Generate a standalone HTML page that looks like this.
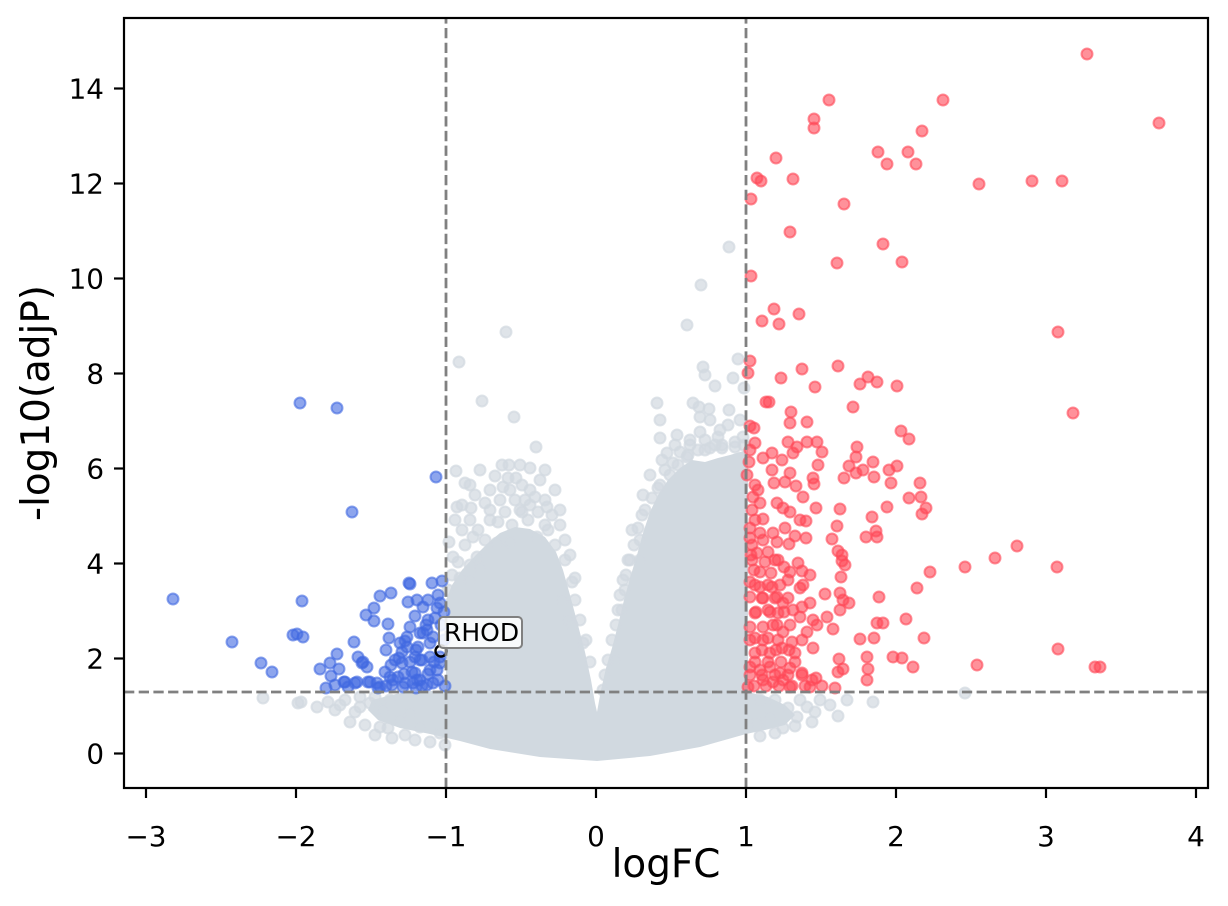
<!DOCTYPE html>
<html><head><meta charset="utf-8"><style>
html,body{margin:0;padding:0;background:#fff}
svg{display:block}
.g{fill:#d1d9e0;fill-opacity:.7;stroke:#d1d9e0;stroke-opacity:.7;stroke-width:2}
.b{fill:#4169e1;fill-opacity:.6;stroke:#4169e1;stroke-opacity:.6;stroke-width:2}
.r{fill:#ff4757;fill-opacity:.6;stroke:#ff4757;stroke-opacity:.6;stroke-width:2}
text{font-family:"DejaVu Sans","Liberation Sans",sans-serif;fill:#000}
.tk{font-size:27.8px}
.lb{font-size:38.9px}
</style></head><body>
<svg width="1228" height="906" viewBox="0 0 1228 906" xmlns="http://www.w3.org/2000/svg">
<rect width="1228" height="906" fill="#fff"/>
<polygon fill="#d1d9e0" points="372,700 400,693 446,690 446,600 452,585 462,570 475,556 488,543 500,533 515,527 530,529 545,537 556,552 563,570 570,595 578,625 585,652 591,680 595,703 597,712 601,690 606,668 612,648 618,625 624,600 630,578 637,555 643,533 650,512 658,495 668,480 680,468 692,460 705,462 718,458 730,455 740,452 748,450 748,692 768,697 785,705 795,715 785,725 765,730 746,734 700,747 650,756 597,761 540,757 490,749 460,741 430,734 400,728 378,720 368,710"/>
<g class="g">
<circle cx="729" cy="247" r="5.5"/><circle cx="701" cy="285" r="5.5"/><circle cx="687" cy="325" r="5.5"/><circle cx="506" cy="332" r="5.5"/><circle cx="459" cy="362" r="5.5"/><circle cx="738" cy="359" r="5.5"/><circle cx="703" cy="367" r="5.5"/><circle cx="705" cy="375" r="5.5"/><circle cx="733" cy="378" r="5.5"/><circle cx="715" cy="386" r="5.5"/><circle cx="744" cy="388" r="5.5"/><circle cx="482" cy="401" r="5.5"/><circle cx="514" cy="417" r="5.5"/><circle cx="657" cy="403" r="5.5"/><circle cx="693" cy="403" r="5.5"/><circle cx="699" cy="407" r="5.5"/><circle cx="709" cy="409" r="5.5"/><circle cx="729" cy="410" r="5.5"/><circle cx="700" cy="417" r="5.5"/><circle cx="710" cy="420" r="5.5"/><circle cx="536" cy="447" r="5.5"/><circle cx="660" cy="438" r="5.5"/><circle cx="677" cy="435" r="5.5"/><circle cx="700" cy="432" r="5.5"/><circle cx="718" cy="437" r="5.5"/><circle cx="722" cy="448" r="5.5"/><circle cx="735" cy="447" r="5.5"/><circle cx="743" cy="437" r="5.5"/><circle cx="456" cy="471" r="5.5"/><circle cx="465" cy="483" r="5.5"/><circle cx="470" cy="485" r="5.5"/><circle cx="502" cy="465" r="5.5"/><circle cx="509" cy="465" r="5.5"/><circle cx="495" cy="476" r="5.5"/><circle cx="516" cy="478" r="5.5"/><circle cx="503" cy="487" r="5.5"/><circle cx="522" cy="485" r="5.5"/><circle cx="457" cy="507" r="5.5"/><circle cx="471" cy="508" r="5.5"/><circle cx="535" cy="497" r="5.5"/><circle cx="547" cy="507" r="5.5"/><circle cx="667" cy="453" r="5.5"/><circle cx="673" cy="463" r="5.5"/><circle cx="687" cy="457" r="5.5"/><circle cx="643" cy="495" r="5.5"/><circle cx="658" cy="488" r="5.5"/><circle cx="473" cy="537" r="5.5"/><circle cx="497" cy="543" r="5.5"/><circle cx="510" cy="542" r="5.5"/><circle cx="449" cy="542" r="5.5"/><circle cx="453" cy="557" r="5.5"/><circle cx="477" cy="557" r="5.5"/><circle cx="480" cy="568" r="5.5"/><circle cx="460" cy="578" r="5.5"/><circle cx="470" cy="580" r="5.5"/><circle cx="575" cy="578" r="5.5"/><circle cx="572" cy="582" r="5.5"/><circle cx="583" cy="643" r="5.5"/><circle cx="572" cy="625" r="5.5"/><circle cx="623" cy="580" r="5.5"/><circle cx="620" cy="595" r="5.5"/><circle cx="622" cy="610" r="5.5"/><circle cx="640" cy="540" r="5.5"/><circle cx="640" cy="560" r="5.5"/><circle cx="642" cy="515" r="5.5"/><circle cx="660" cy="420" r="5.5"/><circle cx="740" cy="420" r="5.5"/><circle cx="728" cy="425" r="5.5"/><circle cx="690" cy="445" r="5.5"/><circle cx="705" cy="450" r="5.5"/><circle cx="545" cy="525" r="5.5"/><circle cx="528" cy="520" r="5.5"/><circle cx="490" cy="520" r="5.5"/><circle cx="520" cy="510" r="5.5"/><circle cx="485" cy="503" r="5.5"/><circle cx="500" cy="500" r="5.5"/><circle cx="555" cy="490" r="5.5"/><circle cx="540" cy="480" r="5.5"/><circle cx="530" cy="468" r="5.5"/><circle cx="525" cy="500" r="5.5"/><circle cx="512" cy="525" r="5.5"/><circle cx="537" cy="537" r="5.5"/><circle cx="555" cy="545" r="5.5"/><circle cx="565" cy="560" r="5.5"/><circle cx="650" cy="475" r="5.5"/><circle cx="665" cy="470" r="5.5"/><circle cx="680" cy="452" r="5.5"/><circle cx="715" cy="445" r="5.5"/><circle cx="632" cy="530" r="5.5"/><circle cx="628" cy="560" r="5.5"/>
<circle cx="455" cy="520" r="5.5"/><circle cx="462" cy="530" r="5.5"/><circle cx="470" cy="520" r="5.5"/><circle cx="478" cy="530" r="5.5"/><circle cx="485" cy="540" r="5.5"/><circle cx="490" cy="510" r="5.5"/><circle cx="498" cy="522" r="5.5"/><circle cx="505" cy="512" r="5.5"/><circle cx="515" cy="500" r="5.5"/><circle cx="522" cy="512" r="5.5"/><circle cx="530" cy="505" r="5.5"/><circle cx="538" cy="512" r="5.5"/><circle cx="545" cy="500" r="5.5"/><circle cx="552" cy="515" r="5.5"/><circle cx="548" cy="530" r="5.5"/><circle cx="560" cy="525" r="5.5"/><circle cx="565" cy="540" r="5.5"/><circle cx="570" cy="555" r="5.5"/><circle cx="490" cy="490" r="5.5"/><circle cx="510" cy="490" r="5.5"/><circle cx="530" cy="490" r="5.5"/><circle cx="545" cy="470" r="5.5"/><circle cx="520" cy="465" r="5.5"/><circle cx="508" cy="478" r="5.5"/><circle cx="480" cy="470" r="5.5"/><circle cx="475" cy="495" r="5.5"/><circle cx="462" cy="505" r="5.5"/><circle cx="465" cy="545" r="5.5"/><circle cx="458" cy="562" r="5.5"/><circle cx="470" cy="565" r="5.5"/><circle cx="452" cy="575" r="5.5"/><circle cx="448" cy="590" r="5.5"/><circle cx="562" cy="600" r="5.5"/><circle cx="568" cy="620" r="5.5"/><circle cx="560" cy="510" r="5.5"/><circle cx="575" cy="600" r="5.5"/><circle cx="580" cy="620" r="5.5"/><circle cx="586" cy="640" r="5.5"/><circle cx="590" cy="662" r="5.5"/>
<circle cx="603" cy="690" r="5.5"/><circle cx="605" cy="675" r="5.5"/><circle cx="608" cy="660" r="5.5"/><circle cx="612" cy="640" r="5.5"/><circle cx="616" cy="625" r="5.5"/><circle cx="618" cy="610" r="5.5"/><circle cx="626" cy="575" r="5.5"/><circle cx="630" cy="560" r="5.5"/><circle cx="634" cy="545" r="5.5"/><circle cx="638" cy="528" r="5.5"/><circle cx="645" cy="510" r="5.5"/><circle cx="652" cy="498" r="5.5"/><circle cx="660" cy="485" r="5.5"/><circle cx="670" cy="475" r="5.5"/><circle cx="678" cy="465" r="5.5"/><circle cx="688" cy="455" r="5.5"/><circle cx="698" cy="450" r="5.5"/><circle cx="710" cy="448" r="5.5"/><circle cx="722" cy="445" r="5.5"/><circle cx="735" cy="442" r="5.5"/><circle cx="744" cy="445" r="5.5"/><circle cx="662" cy="460" r="5.5"/><circle cx="675" cy="445" r="5.5"/><circle cx="690" cy="440" r="5.5"/><circle cx="705" cy="440" r="5.5"/><circle cx="720" cy="430" r="5.5"/><circle cx="625" cy="590" r="5.5"/><circle cx="615" cy="660" r="5.5"/>
<circle cx="263" cy="698" r="5.5"/><circle cx="298" cy="703" r="5.5"/><circle cx="301" cy="702" r="5.5"/><circle cx="317" cy="707" r="5.5"/><circle cx="328" cy="702" r="5.5"/><circle cx="340" cy="705" r="5.5"/><circle cx="350" cy="722" r="5.5"/><circle cx="360" cy="707" r="5.5"/><circle cx="380" cy="727" r="5.5"/><circle cx="388" cy="728" r="5.5"/><circle cx="400" cy="720" r="5.5"/><circle cx="420" cy="727" r="5.5"/><circle cx="440" cy="733" r="5.5"/><circle cx="370" cy="703" r="5.5"/><circle cx="383" cy="710" r="5.5"/><circle cx="410" cy="713" r="5.5"/><circle cx="355" cy="712" r="5.5"/><circle cx="365" cy="725" r="5.5"/><circle cx="345" cy="700" r="5.5"/><circle cx="335" cy="710" r="5.5"/><circle cx="392" cy="738" r="5.5"/><circle cx="405" cy="735" r="5.5"/><circle cx="415" cy="740" r="5.5"/><circle cx="430" cy="742" r="5.5"/><circle cx="445" cy="745" r="5.5"/><circle cx="360" cy="697" r="5.5"/><circle cx="375" cy="697" r="5.5"/><circle cx="390" cy="700" r="5.5"/><circle cx="375" cy="735" r="5.5"/>
<circle cx="847" cy="700" r="5.5"/><circle cx="873" cy="702" r="5.5"/><circle cx="838" cy="716" r="5.5"/><circle cx="812" cy="722" r="5.5"/><circle cx="797" cy="717" r="5.5"/><circle cx="783" cy="728" r="5.5"/><circle cx="770" cy="717" r="5.5"/><circle cx="757" cy="723" r="5.5"/><circle cx="807" cy="707" r="5.5"/><circle cx="788" cy="708" r="5.5"/><circle cx="965" cy="693" r="5.5"/><circle cx="800" cy="700" r="5.5"/><circle cx="820" cy="700" r="5.5"/><circle cx="760" cy="736" r="5.5"/><circle cx="775" cy="733" r="5.5"/><circle cx="830" cy="705" r="5.5"/><circle cx="815" cy="712" r="5.5"/><circle cx="760" cy="700" r="5.5"/><circle cx="775" cy="700" r="5.5"/><circle cx="795" cy="726" r="5.5"/>
</g>
<g class="b">
<circle cx="300" cy="403" r="5.5"/><circle cx="337" cy="408" r="5.5"/><circle cx="436" cy="477" r="5.5"/><circle cx="352" cy="512" r="5.5"/><circle cx="173" cy="599" r="5.5"/><circle cx="302" cy="601" r="5.5"/><circle cx="232" cy="642" r="5.5"/><circle cx="261" cy="663" r="5.5"/><circle cx="272" cy="672" r="5.5"/><circle cx="293" cy="635" r="5.5"/><circle cx="297" cy="634" r="5.5"/><circle cx="303" cy="637" r="5.5"/><circle cx="320" cy="669" r="5.5"/><circle cx="330" cy="663" r="5.5"/><circle cx="337" cy="654" r="5.5"/><circle cx="331" cy="676" r="5.5"/><circle cx="339" cy="669" r="5.5"/><circle cx="344" cy="682" r="5.5"/><circle cx="335" cy="685" r="5.5"/><circle cx="354" cy="642" r="5.5"/><circle cx="358" cy="657" r="5.5"/><circle cx="363" cy="662" r="5.5"/><circle cx="367" cy="667" r="5.5"/><circle cx="357" cy="682" r="5.5"/><circle cx="368" cy="682" r="5.5"/><circle cx="377" cy="683" r="5.5"/><circle cx="366" cy="615" r="5.5"/><circle cx="374" cy="608" r="5.5"/><circle cx="374" cy="621" r="5.5"/><circle cx="380" cy="596" r="5.5"/><circle cx="391" cy="593" r="5.5"/><circle cx="388" cy="624" r="5.5"/><circle cx="389" cy="638" r="5.5"/><circle cx="386" cy="650" r="5.5"/><circle cx="385" cy="672" r="5.5"/><circle cx="391" cy="665" r="5.5"/><circle cx="390" cy="677" r="5.5"/><circle cx="392" cy="685" r="5.5"/><circle cx="400" cy="643" r="5.5"/><circle cx="399" cy="658" r="5.5"/><circle cx="402" cy="663" r="5.5"/><circle cx="405" cy="683" r="5.5"/><circle cx="407" cy="637" r="5.5"/><circle cx="409" cy="583" r="5.5"/><circle cx="410" cy="584" r="5.5"/><circle cx="408" cy="602" r="5.5"/><circle cx="417" cy="600" r="5.5"/><circle cx="423" cy="607" r="5.5"/><circle cx="415" cy="616" r="5.5"/><circle cx="410" cy="627" r="5.5"/><circle cx="407" cy="647" r="5.5"/><circle cx="415" cy="657" r="5.5"/><circle cx="420" cy="660" r="5.5"/><circle cx="423" cy="633" r="5.5"/><circle cx="427" cy="630" r="5.5"/><circle cx="432" cy="583" r="5.5"/><circle cx="442" cy="581" r="5.5"/><circle cx="438" cy="595" r="5.5"/><circle cx="440" cy="603" r="5.5"/><circle cx="435" cy="618" r="5.5"/><circle cx="433" cy="637" r="5.5"/><circle cx="437" cy="670" r="5.5"/><circle cx="438" cy="680" r="5.5"/><circle cx="420" cy="680" r="5.5"/><circle cx="413" cy="683" r="5.5"/><circle cx="403" cy="687" r="5.5"/><circle cx="427" cy="685" r="5.5"/><circle cx="412" cy="672" r="5.5"/><circle cx="430" cy="657" r="5.5"/><circle cx="440" cy="657" r="5.5"/><circle cx="437" cy="608" r="5.5"/><circle cx="405" cy="641" r="5.5"/><circle cx="402" cy="652" r="5.5"/><circle cx="362" cy="663" r="5.5"/><circle cx="345" cy="682" r="5.5"/><circle cx="355" cy="683" r="5.5"/><circle cx="370" cy="682" r="5.5"/><circle cx="378" cy="688" r="5.5"/><circle cx="393" cy="680" r="5.5"/><circle cx="417" cy="680" r="5.5"/><circle cx="433" cy="683" r="5.5"/><circle cx="420" cy="633" r="5.5"/><circle cx="430" cy="643" r="5.5"/><circle cx="418" cy="647" r="5.5"/><circle cx="422" cy="660" r="5.5"/><circle cx="440" cy="663" r="5.5"/><circle cx="415" cy="673" r="5.5"/><circle cx="398" cy="677" r="5.5"/><circle cx="430" cy="670" r="5.5"/><circle cx="441" cy="625" r="5.5"/><circle cx="444" cy="640" r="5.5"/><circle cx="428" cy="620" r="5.5"/><circle cx="395" cy="660" r="5.5"/><circle cx="445" cy="686" r="5.5"/><circle cx="416" cy="688" r="5.5"/><circle cx="380" cy="687" r="5.5"/><circle cx="348" cy="687" r="5.5"/><circle cx="326" cy="688" r="5.5"/>
<circle cx="428" cy="600" r="5.5"/><circle cx="444" cy="612" r="5.5"/><circle cx="426" cy="625" r="5.5"/><circle cx="416" cy="650" r="5.5"/><circle cx="410" cy="662" r="5.5"/><circle cx="434" cy="662" r="5.5"/><circle cx="404" cy="674" r="5.5"/><circle cx="428" cy="674" r="5.5"/><circle cx="386" cy="686" r="5.5"/><circle cx="422" cy="686" r="5.5"/>
</g>
<g class="r">
<circle cx="1087" cy="54" r="5.5"/><circle cx="829" cy="100" r="5.5"/><circle cx="943" cy="100" r="5.5"/><circle cx="814" cy="119" r="5.5"/><circle cx="814" cy="128" r="5.5"/><circle cx="922" cy="131" r="5.5"/><circle cx="1159" cy="123" r="5.5"/><circle cx="776" cy="158" r="5.5"/><circle cx="878" cy="152" r="5.5"/><circle cx="908" cy="152" r="5.5"/><circle cx="887" cy="164" r="5.5"/><circle cx="916" cy="164" r="5.5"/><circle cx="757" cy="178" r="5.5"/><circle cx="761" cy="181" r="5.5"/><circle cx="793" cy="179" r="5.5"/><circle cx="979" cy="184" r="5.5"/><circle cx="1032" cy="181" r="5.5"/><circle cx="1062" cy="181" r="5.5"/><circle cx="751" cy="199" r="5.5"/><circle cx="844" cy="204" r="5.5"/><circle cx="790" cy="232" r="5.5"/><circle cx="883" cy="244" r="5.5"/><circle cx="837" cy="263" r="5.5"/><circle cx="902" cy="262" r="5.5"/><circle cx="751" cy="276" r="5.5"/><circle cx="774" cy="309" r="5.5"/><circle cx="762" cy="321" r="5.5"/><circle cx="779" cy="324" r="5.5"/><circle cx="799" cy="314" r="5.5"/><circle cx="1058" cy="332" r="5.5"/><circle cx="1073" cy="413" r="5.5"/>
<circle cx="750" cy="361" r="5.5"/><circle cx="748" cy="373" r="5.5"/><circle cx="802" cy="369" r="5.5"/><circle cx="838" cy="366" r="5.5"/><circle cx="781" cy="378" r="5.5"/><circle cx="815" cy="387" r="5.5"/><circle cx="860" cy="384" r="5.5"/><circle cx="868" cy="377" r="5.5"/><circle cx="877" cy="382" r="5.5"/><circle cx="897" cy="386" r="5.5"/><circle cx="766" cy="402" r="5.5"/><circle cx="769" cy="402" r="5.5"/><circle cx="853" cy="407" r="5.5"/><circle cx="791" cy="412" r="5.5"/><circle cx="790" cy="423" r="5.5"/><circle cx="807" cy="422" r="5.5"/><circle cx="750" cy="426" r="5.5"/><circle cx="754" cy="428" r="5.5"/><circle cx="901" cy="431" r="5.5"/><circle cx="909" cy="439" r="5.5"/><circle cx="755" cy="443" r="5.5"/><circle cx="788" cy="442" r="5.5"/><circle cx="797" cy="447" r="5.5"/><circle cx="807" cy="442" r="5.5"/><circle cx="817" cy="442" r="5.5"/><circle cx="822" cy="452" r="5.5"/><circle cx="793" cy="453" r="5.5"/><circle cx="772" cy="453" r="5.5"/><circle cx="763" cy="458" r="5.5"/><circle cx="857" cy="447" r="5.5"/><circle cx="856" cy="457" r="5.5"/><circle cx="782" cy="460" r="5.5"/><circle cx="772" cy="470" r="5.5"/><circle cx="749" cy="462" r="5.5"/><circle cx="818" cy="465" r="5.5"/><circle cx="849" cy="466" r="5.5"/><circle cx="863" cy="470" r="5.5"/><circle cx="873" cy="462" r="5.5"/><circle cx="889" cy="470" r="5.5"/><circle cx="897" cy="466" r="5.5"/><circle cx="856" cy="473" r="5.5"/><circle cx="844" cy="478" r="5.5"/><circle cx="874" cy="477" r="5.5"/><circle cx="790" cy="473" r="5.5"/><circle cx="813" cy="478" r="5.5"/><circle cx="814" cy="484" r="5.5"/><circle cx="796" cy="486" r="5.5"/><circle cx="785" cy="482" r="5.5"/><circle cx="774" cy="483" r="5.5"/><circle cx="891" cy="483" r="5.5"/><circle cx="920" cy="483" r="5.5"/><circle cx="747" cy="475" r="5.5"/><circle cx="755" cy="485" r="5.5"/><circle cx="758" cy="490" r="5.5"/><circle cx="753" cy="497" r="5.5"/><circle cx="909" cy="498" r="5.5"/><circle cx="921" cy="497" r="5.5"/><circle cx="803" cy="497" r="5.5"/><circle cx="760" cy="503" r="5.5"/><circle cx="777" cy="503" r="5.5"/><circle cx="783" cy="508" r="5.5"/><circle cx="790" cy="512" r="5.5"/><circle cx="816" cy="508" r="5.5"/><circle cx="840" cy="509" r="5.5"/><circle cx="887" cy="507" r="5.5"/><circle cx="926" cy="508" r="5.5"/><circle cx="922" cy="514" r="5.5"/><circle cx="755" cy="520" r="5.5"/><circle cx="763" cy="519" r="5.5"/><circle cx="800" cy="520" r="5.5"/><circle cx="806" cy="521" r="5.5"/><circle cx="872" cy="517" r="5.5"/><circle cx="837" cy="526" r="5.5"/><circle cx="750" cy="528" r="5.5"/><circle cx="760" cy="533" r="5.5"/><circle cx="773" cy="533" r="5.5"/><circle cx="785" cy="528" r="5.5"/><circle cx="795" cy="536" r="5.5"/><circle cx="806" cy="538" r="5.5"/><circle cx="876" cy="531" r="5.5"/><circle cx="877" cy="537" r="5.5"/><circle cx="866" cy="537" r="5.5"/><circle cx="832" cy="539" r="5.5"/><circle cx="750" cy="538" r="5.5"/><circle cx="763" cy="540" r="5.5"/><circle cx="777" cy="542" r="5.5"/><circle cx="789" cy="544" r="5.5"/><circle cx="838" cy="551" r="5.5"/><circle cx="842" cy="555" r="5.5"/><circle cx="845" cy="565" r="5.5"/><circle cx="841" cy="577" r="5.5"/><circle cx="842" cy="561" r="5.5"/><circle cx="930" cy="572" r="5.5"/><circle cx="965" cy="567" r="5.5"/><circle cx="995" cy="558" r="5.5"/><circle cx="1017" cy="546" r="5.5"/><circle cx="1057" cy="567" r="5.5"/><circle cx="751" cy="555" r="5.5"/><circle cx="768" cy="552" r="5.5"/><circle cx="765" cy="562" r="5.5"/><circle cx="775" cy="560" r="5.5"/><circle cx="784" cy="567" r="5.5"/><circle cx="798" cy="563" r="5.5"/><circle cx="802" cy="571" r="5.5"/><circle cx="810" cy="575" r="5.5"/><circle cx="754" cy="570" r="5.5"/><circle cx="771" cy="573" r="5.5"/><circle cx="750" cy="582" r="5.5"/><circle cx="760" cy="587" r="5.5"/><circle cx="772" cy="587" r="5.5"/><circle cx="788" cy="580" r="5.5"/><circle cx="800" cy="588" r="5.5"/><circle cx="803" cy="585" r="5.5"/><circle cx="750" cy="597" r="5.5"/><circle cx="763" cy="598" r="5.5"/><circle cx="777" cy="597" r="5.5"/><circle cx="783" cy="603" r="5.5"/><circle cx="793" cy="610" r="5.5"/><circle cx="802" cy="607" r="5.5"/><circle cx="810" cy="603" r="5.5"/><circle cx="825" cy="594" r="5.5"/><circle cx="840" cy="593" r="5.5"/><circle cx="843" cy="600" r="5.5"/><circle cx="849" cy="603" r="5.5"/><circle cx="840" cy="610" r="5.5"/><circle cx="879" cy="597" r="5.5"/><circle cx="917" cy="588" r="5.5"/><circle cx="755" cy="613" r="5.5"/><circle cx="768" cy="610" r="5.5"/><circle cx="778" cy="613" r="5.5"/><circle cx="800" cy="617" r="5.5"/><circle cx="813" cy="620" r="5.5"/><circle cx="827" cy="617" r="5.5"/><circle cx="817" cy="625" r="5.5"/><circle cx="750" cy="627" r="5.5"/><circle cx="763" cy="627" r="5.5"/><circle cx="773" cy="625" r="5.5"/><circle cx="783" cy="632" r="5.5"/><circle cx="807" cy="632" r="5.5"/><circle cx="833" cy="629" r="5.5"/><circle cx="877" cy="623" r="5.5"/><circle cx="883" cy="623" r="5.5"/><circle cx="906" cy="619" r="5.5"/><circle cx="924" cy="638" r="5.5"/><circle cx="860" cy="639" r="5.5"/><circle cx="874" cy="638" r="5.5"/><circle cx="750" cy="640" r="5.5"/><circle cx="763" cy="640" r="5.5"/><circle cx="778" cy="640" r="5.5"/><circle cx="792" cy="642" r="5.5"/><circle cx="802" cy="640" r="5.5"/><circle cx="813" cy="648" r="5.5"/><circle cx="755" cy="653" r="5.5"/><circle cx="770" cy="653" r="5.5"/><circle cx="782" cy="648" r="5.5"/><circle cx="795" cy="653" r="5.5"/><circle cx="839" cy="659" r="5.5"/><circle cx="838" cy="672" r="5.5"/><circle cx="843" cy="669" r="5.5"/><circle cx="867" cy="657" r="5.5"/><circle cx="868" cy="669" r="5.5"/><circle cx="867" cy="680" r="5.5"/><circle cx="893" cy="657" r="5.5"/><circle cx="902" cy="658" r="5.5"/><circle cx="913" cy="667" r="5.5"/><circle cx="977" cy="665" r="5.5"/><circle cx="1058" cy="649" r="5.5"/><circle cx="1095" cy="667" r="5.5"/><circle cx="1100" cy="667" r="5.5"/><circle cx="750" cy="667" r="5.5"/><circle cx="760" cy="670" r="5.5"/><circle cx="770" cy="667" r="5.5"/><circle cx="780" cy="673" r="5.5"/><circle cx="790" cy="668" r="5.5"/><circle cx="802" cy="673" r="5.5"/><circle cx="812" cy="680" r="5.5"/><circle cx="816" cy="678" r="5.5"/><circle cx="763" cy="680" r="5.5"/><circle cx="773" cy="682" r="5.5"/><circle cx="783" cy="680" r="5.5"/><circle cx="748" cy="687" r="5.5"/><circle cx="835" cy="688" r="5.5"/><circle cx="790" cy="687" r="5.5"/><circle cx="810" cy="687" r="5.5"/>
<circle cx="752" cy="560" r="5.5"/><circle cx="778" cy="560" r="5.5"/><circle cx="760" cy="572" r="5.5"/><circle cx="790" cy="572" r="5.5"/><circle cx="755" cy="585" r="5.5"/><circle cx="768" cy="585" r="5.5"/><circle cx="780" cy="585" r="5.5"/><circle cx="762" cy="598" r="5.5"/><circle cx="775" cy="598" r="5.5"/><circle cx="788" cy="598" r="5.5"/><circle cx="756" cy="612" r="5.5"/><circle cx="770" cy="612" r="5.5"/><circle cx="784" cy="612" r="5.5"/><circle cx="777" cy="625" r="5.5"/><circle cx="790" cy="625" r="5.5"/><circle cx="755" cy="638" r="5.5"/><circle cx="768" cy="638" r="5.5"/><circle cx="762" cy="650" r="5.5"/><circle cx="776" cy="650" r="5.5"/><circle cx="789" cy="650" r="5.5"/><circle cx="755" cy="662" r="5.5"/><circle cx="768" cy="662" r="5.5"/><circle cx="781" cy="662" r="5.5"/><circle cx="795" cy="662" r="5.5"/><circle cx="750" cy="675" r="5.5"/><circle cx="762" cy="675" r="5.5"/><circle cx="775" cy="675" r="5.5"/><circle cx="788" cy="675" r="5.5"/><circle cx="802" cy="675" r="5.5"/><circle cx="754" cy="686" r="5.5"/><circle cx="766" cy="686" r="5.5"/><circle cx="779" cy="686" r="5.5"/><circle cx="792" cy="686" r="5.5"/><circle cx="805" cy="686" r="5.5"/><circle cx="822" cy="686" r="5.5"/><circle cx="750" cy="450" r="5.5"/><circle cx="752" cy="510" r="5.5"/><circle cx="752" cy="545" r="5.5"/><circle cx="757" cy="553" r="5.5"/>
</g>
<circle cx="441" cy="651" r="5.5" fill="none" stroke="#000" stroke-width="2.4"/>
<g stroke="#808080" stroke-width="2.8" stroke-dasharray="10.3 4.4" fill="none">
<line x1="446" y1="788" x2="446" y2="18"/>
<line x1="746" y1="788" x2="746" y2="18"/>
<line x1="124" y1="692" x2="1208" y2="692"/>
</g>
<rect x="439" y="617" width="83" height="31" rx="4" ry="4" fill="#fff" fill-opacity="0.85" stroke="#808080" stroke-width="2"/>
<text x="444" y="641" font-size="25">RHOD</text>
<rect x="124" y="18" width="1084" height="770" fill="none" stroke="#000" stroke-width="2.2"/>
<g stroke="#000" stroke-width="2.2">
<line x1="114" y1="753.5" x2="124" y2="753.5"/><line x1="114" y1="658.5" x2="124" y2="658.5"/><line x1="114" y1="563.5" x2="124" y2="563.5"/><line x1="114" y1="468.5" x2="124" y2="468.5"/><line x1="114" y1="373.5" x2="124" y2="373.5"/><line x1="114" y1="278.5" x2="124" y2="278.5"/><line x1="114" y1="183.5" x2="124" y2="183.5"/><line x1="114" y1="88.5" x2="124" y2="88.5"/>
<line x1="146" y1="788" x2="146" y2="798"/><line x1="296" y1="788" x2="296" y2="798"/><line x1="446" y1="788" x2="446" y2="798"/><line x1="596" y1="788" x2="596" y2="798"/><line x1="746" y1="788" x2="746" y2="798"/><line x1="896" y1="788" x2="896" y2="798"/><line x1="1046" y1="788" x2="1046" y2="798"/><line x1="1196" y1="788" x2="1196" y2="798"/>
</g>
<g class="tk" text-anchor="end">
<text x="104" y="763.5">0</text><text x="104" y="668.5">2</text><text x="104" y="573.5">4</text><text x="104" y="478.5">6</text><text x="104" y="383.5">8</text><text x="104" y="288.5">10</text><text x="104" y="193.5">12</text><text x="104" y="98.5">14</text>
</g>
<g class="tk" text-anchor="middle">
<text x="146" y="846">−3</text><text x="296" y="846">−2</text><text x="446" y="846">−1</text><text x="596" y="846">0</text><text x="746" y="846">1</text><text x="896" y="846">2</text><text x="1046" y="846">3</text><text x="1196" y="846">4</text>
</g>
<text class="lb" x="666" y="877" text-anchor="middle">logFC</text>
<text class="lb" transform="translate(49,403) rotate(-90)" text-anchor="middle">-log10(adjP)</text>
</svg>
</body></html>
